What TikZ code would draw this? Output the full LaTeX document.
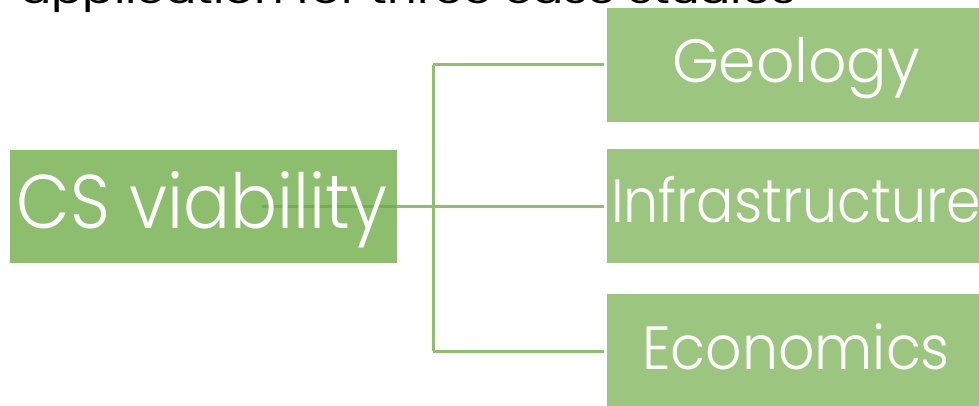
\documentclass[tikz,border=0pt]{standalone}
\usepackage{fontspec}
\setmainfont{Poppins}[UprightFont=* Light]
\newfontfamily\headfont{Poppins}
\usetikzlibrary{calc}

\definecolor{rootgreen}{HTML}{8CBE6D}
\definecolor{leafgreen}{HTML}{9CC67F}
\definecolor{linkgreen}{HTML}{8DBF6E}
\definecolor{stemgreen}{HTML}{76AE4F}

% set a label to a given width, keeping its height
\newcommand{\fitwidth}[2]{\resizebox{#1}{\height}{#2}}

\tikzset{
  rootbox/.style={rectangle, fill=rootgreen, inner sep=0pt,
    minimum width=387pt, minimum height=113pt},
  leafbox/.style={rectangle, fill=leafgreen, inner sep=0pt,
    minimum width=378pt, minimum height=114pt, text=white,
    font=\fontsize{61}{61}\selectfont, text depth=0pt},
  roottext/.style={inner sep=0pt, text=white,
    font=\fontsize{76}{76}\selectfont, text depth=0pt, text height=45pt},
  link/.style={draw=linkgreen, line width=3pt},
  stem/.style={draw=stemgreen, line width=3pt},
  heading/.style={inner sep=0pt, anchor=base west, text=black,
    font=\headfont\fontsize{35}{35}\selectfont},
}

\begin{document}
\begin{tikzpicture}[x=1pt, y=-1pt]
  \useasboundingbox (0,0) rectangle (979,406);
  \clip (0,0) rectangle (979,406);

  % title line, mostly above the frame
  \node[heading] (title) at (20,3.3) {\fitwidth{775pt}{application for three case studies}};

  % root box, its stub and its label
  \node[rootbox] (cs) at (203.5,206.5) {};
  \coordinate (csjoin) at (262,206);
  \draw[stem] (csjoin) -- (cs.east |- csjoin);
  \node[roottext] (cslabel) at (202.3,206.5) {\fitwidth{371pt}{CS viability}};

  % the three factors
  \node[leafbox, text height=35.4pt] (geo) at (796,65) {\fitwidth{248pt}{Geology}};
  \node[leafbox, text height=33.4pt] (inf) at (796,206) {\fitwidth{370pt}{Infrastructure}};
  \node[leafbox, text height=36pt]   (eco) at (796,351) {\fitwidth{308pt}{Economics}};

  % bracket connector
  \coordinate (fork) at (433,206);
  \draw[link] (cs.east |- fork) -- (fork);
  \draw[link] (fork |- geo.west) -- (fork |- eco.west);
  \draw[link, shorten >=2.5pt] (fork |- geo.west) -- (geo.west);
  \draw[link, shorten >=2.5pt] (fork) -- (inf.west);
  \draw[link, shorten >=2.5pt] (fork |- eco.west) -- (eco.west);
\end{tikzpicture}
\end{document}
